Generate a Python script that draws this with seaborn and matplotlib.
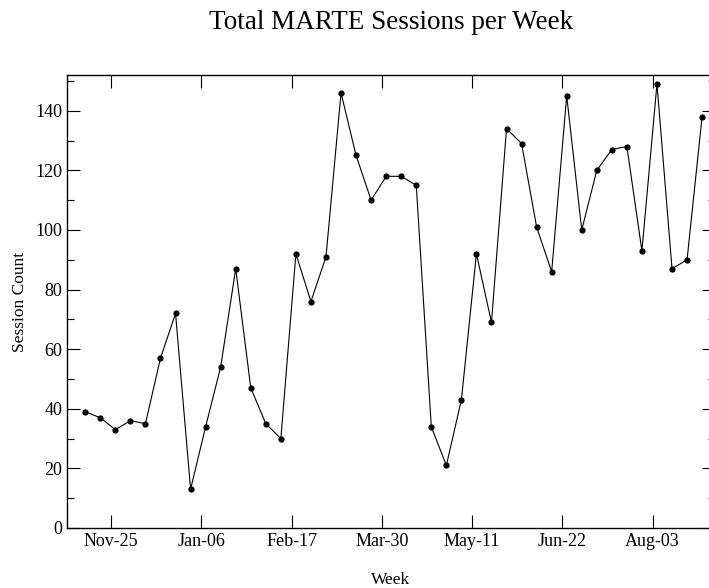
import matplotlib
matplotlib.use("Agg")
import matplotlib.pyplot as plt
import matplotlib.dates as mdates
from matplotlib.ticker import MultipleLocator
import pandas as pd
import seaborn as sns

# weekly session totals, first week starting 2003-11-13
first_week = "2003-11-13"
sessions = [39, 37, 33, 36, 35, 57, 72, 13, 34, 54, 87, 47, 35, 30, 92, 76,
            91, 146, 125, 110, 118, 118, 115, 34, 21, 43, 92, 69, 134, 129,
            101, 86, 145, 100, 120, 127, 128, 93, 149, 87, 90, 138]
tick_dates = ["2003-11-25", "2004-01-06", "2004-02-17", "2004-03-30",
              "2004-05-11", "2004-06-22", "2004-08-03"]

weeks = pd.date_range(first_week, periods=len(sessions), freq="7D")
df = pd.DataFrame({"week": weeks, "sessions": sessions})

sns.set_style("ticks")
plt.rcParams["font.family"] = ["Liberation Serif", "DejaVu Serif"]
plt.rcParams["text.color"] = "black"
plt.rcParams["axes.labelcolor"] = "black"
plt.rcParams["xtick.color"] = "black"
plt.rcParams["ytick.color"] = "black"

fig = plt.figure(figsize=(7.09, 5.88), dpi=100)
ax = fig.add_axes([67 / 709, 60 / 588, 648 / 709, 453 / 588])

sns.lineplot(data=df, x="week", y="sessions", marker="o", color="black",
             linewidth=0.8, markersize=4.5, markeredgewidth=0, ax=ax)

ax.set_xlim(pd.Timestamp("2003-11-04 12:00"), pd.Timestamp("2004-09-01"))
ax.set_ylim(0, 152)
ax.set_xticks(pd.to_datetime(tick_dates))
ax.xaxis.set_major_formatter(mdates.DateFormatter("%b-%d"))
ax.yaxis.set_major_locator(MultipleLocator(20))
ax.yaxis.set_minor_locator(MultipleLocator(10))

ax.tick_params(which="major", direction="in", top=True, right=True,
               length=9.4, width=0.8, labelsize=13, color="black")
ax.tick_params(which="minor", direction="in", right=True, left=True,
               length=4.8, width=0.8, color="black")
for s in ax.spines.values():
    s.set_linewidth(1.0)
    s.set_color("black")

ax.set_title("Total MARTE Sessions per Week", fontsize=19.5, pad=33)
ax.set_xlabel("Week", fontsize=12.5, labelpad=16)
ax.set_ylabel("Session Count", fontsize=12.5, labelpad=5)

fig.savefig("out.png", dpi=100)
